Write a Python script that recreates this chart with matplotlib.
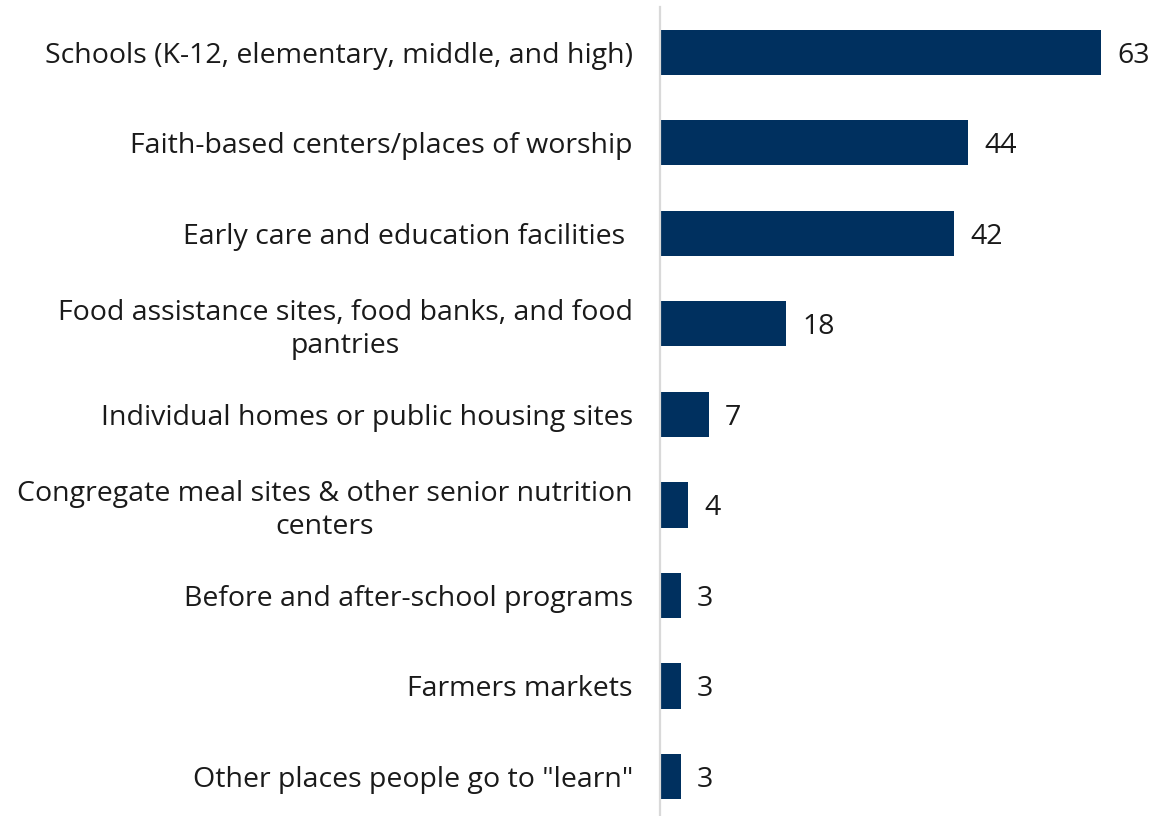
import matplotlib
matplotlib.use("Agg")
import matplotlib.pyplot as plt

plt.rcParams['font.family'] = ['Open Sans', 'DejaVu Sans']

categories = [
    "Schools (K-12, elementary, middle, and high)",
    "Faith-based centers/places of worship",
    "Early care and education facilities ",
    "Food assistance sites, food banks, and food\npantries",
    "Individual homes or public housing sites",
    "Congregate meal sites & other senior nutrition\ncenters",
    "Before and after-school programs",
    "Farmers markets",
    "Other places people go to \"learn\"",
]
values = [63, 44, 42, 18, 7, 4, 3, 3, 3]

bar_color = "#00305f"
text_color = "#1a1a1a"

fig = plt.figure(figsize=(11.61, 8.16), dpi=100)
# axes placed in figure fraction: left edge at the grey baseline
ax = fig.add_axes([660 / 1161, -5.75 / 816, 490 / 1161, 814.75 / 816])

ypos = list(range(len(categories)))
ax.barh(ypos, values, height=0.5, color=bar_color, zorder=2)

for y, v in zip(ypos, values):
    ax.text(v + 2.3, y, str(v), va="center_baseline", ha="left",
            fontsize=20.5, color=text_color)

ax.set_xlim(0, 70)
ax.set_ylim(len(categories) - 0.5, -0.5)
ax.set_yticks(ypos)
ax.set_yticklabels(categories, fontsize=20.5, color=text_color,
                   linespacing=1.2, multialignment="center")
ax.tick_params(axis="y", length=0, pad=19.5)
ax.set_xticks([])

for side in ["top", "right", "bottom"]:
    ax.spines[side].set_visible(False)
ax.spines["left"].set_color("#d9d9d9")
ax.spines["left"].set_linewidth(1.6)

fig.savefig("out.png", dpi=100)
